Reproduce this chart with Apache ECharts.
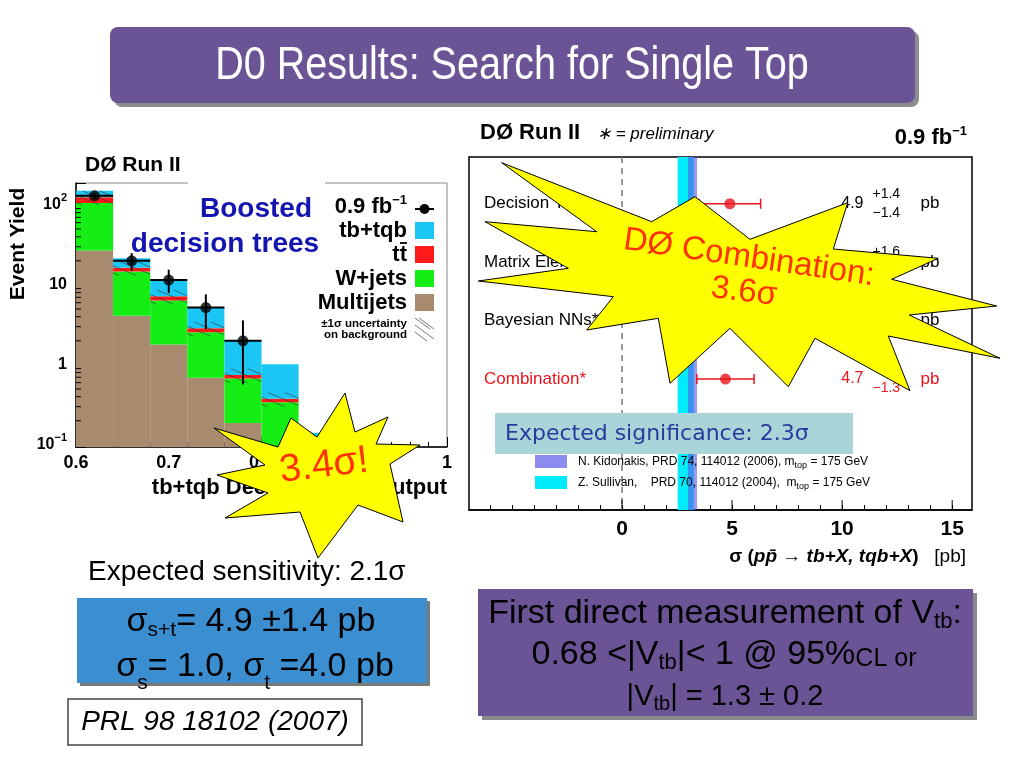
<!DOCTYPE html>
<html><head><meta charset="utf-8">
<script src="https://cdn.jsdelivr.net/npm/echarts@6/dist/echarts.min.js"></script>
<style>html,body{margin:0;padding:0;background:#fff;}#c{width:1024px;height:768px;}</style>
</head><body><div id="c"></div>
<script>
// ---------- Left panel: BDT output histogram ----------
const binEdges  = [0.60,0.64,0.68,0.72,0.76,0.80,0.84,0.88,0.92,0.96,1.00];
const multijets = [27, 4.1, 1.8, 0.69, 0.187, 0.06, 0.02, 0.01, 0.005, 0.003];
const wjets     = [79, 10.6, 4.6, 1.87, 0.49, 0.28, 0.05, 0.03, 0.02, 0.01];
const ttbar     = [19, 1.7, 0.8, 0.31, 0.07, 0.036, 0.015, 0.01, 0.006, 0.004];
const tbtqb     = [25, 5.1, 4.5, 2.33, 1.28, 0.64, 0.057, 0.03, 0.02, 0.01];
const bkgUnc    = 0.2;
const dataX  = [0.62, 0.66, 0.70, 0.74, 0.78];
const dataY  = [130, 20, 11.5, 5.2, 2.0];
const dataLo = [119, 15, 7.9, 2.8, 0.57];
const dataHi = [141, 25, 15.5, 7.6, 3.6];
const xTickLabelsLeft = ['0.6','0.7','0.8','0.9','1'];

// ---------- Right panel: cross-section summary ----------
const methods   = ['Decision Trees','Matrix Elements','Bayesian NNs*','Combination*'];
const methodRow = [5, 4, 3, 2];
const xsec      = [4.9, 4.8, 5.0, 4.7];
const errUp     = [1.4, 1.6, 1.9, 1.3];
const errDn     = [1.4, 1.4, 1.9, 1.3];
const sullivan  = [2.53, 3.26];
const kidonakis = [3.0, 3.41];
const xTicksRight = [0, 5, 10, 15];

const F = '"Liberation Sans", Arial, sans-serif';
const RED = '#e8141e';
const chart = echarts.init(document.getElementById('c'), null, {width:1024, height:768});

function csRect(params){ const c = params.coordSys; return {x:c.x, y:c.y, width:c.width, height:c.height}; }

function histItem(params, api){
  const p0 = api.coord([api.value(0), api.value(3)]);
  const p1 = api.coord([api.value(1), api.value(2)]);
  const r = echarts.graphic.clipRectByRect({x:p0[0], y:p0[1], width:p1[0]-p0[0], height:p1[1]-p0[1]}, csRect(params));
  if (!r) return null;
  return {type:'rect', shape:r, style:{fill:api.visual('color')}};
}
function hatchItem(params, api){
  const a = api.coord([api.value(0), api.value(3)]);
  const b = api.coord([api.value(1), api.value(2)]);
  const cs = params.coordSys;
  const xL=a[0], xR=b[0], yT=Math.max(a[1], cs.y), yB=Math.min(b[1], cs.y+cs.height);
  if (yB <= yT) return null;
  const k = 0.42, step = 17, span = (yB-yT)/k, ch = [];
  for (let c = xL - span + 6; c < xR; c += step){
    const xs = Math.max(c, xL), xe = Math.min(c+span, xR);
    if (xe <= xs) continue;
    ch.push({type:'line', shape:{x1:xs, y1:yT+(xs-c)*k, x2:xe, y2:yT+(xe-c)*k}, style:{stroke:'#333', lineWidth:0.6}});
  }
  return {type:'group', children:ch};
}
function minorTickItem(params, api){
  const p = api.coord([0.6, api.value(0)]);
  return {type:'line', shape:{x1:p[0], y1:p[1], x2:p[0]+5, y2:p[1]}, style:{stroke:'#000', lineWidth:1}};
}
function yerrItem(params, api){
  const i = params.dataIndex;
  const lo = api.coord([dataX[i], dataLo[i]]), hi = api.coord([dataX[i], dataHi[i]]);
  const l = api.coord([dataX[i]-0.02, dataY[i]]), r = api.coord([dataX[i]+0.02, dataY[i]]);
  const st = {stroke:'#000', lineWidth:2};
  return {type:'group', children:[
    {type:'line', shape:{x1:lo[0], y1:lo[1], x2:hi[0], y2:hi[1]}, style:st},
    {type:'line', shape:{x1:l[0], y1:l[1], x2:r[0], y2:r[1]}, style:st}]};
}
function bandItem(params, api){
  const cs = params.coordSys;
  const a = api.coord([api.value(0), 0]), b = api.coord([api.value(1), 0]);
  return {type:'rect', shape:{x:a[0], y:cs.y, width:b[0]-a[0], height:cs.height}, style:{fill:api.visual('color'), opacity: api.value(2)}};
}
function zeroLineItem(params, api){
  const cs = params.coordSys; const p = api.coord([0, 0]);
  return {type:'line', shape:{x1:p[0], y1:cs.y, x2:p[0], y2:cs.y+cs.height}, style:{stroke:'#777', lineWidth:1.5, lineDash:[6,5]}};
}
function majorTickItem(params, api){
  const cs = params.coordSys; const p = api.coord([api.value(0), 0]);
  return {type:'line', shape:{x1:p[0], y1:cs.y+cs.height, x2:p[0], y2:cs.y+cs.height-10}, style:{stroke:'#000', lineWidth:1}};
}
function xerrItem(params, api){
  const i = params.dataIndex, y = methodRow[i];
  const a = api.coord([xsec[i]-errDn[i], y]), b = api.coord([xsec[i]+errUp[i], y]);
  const st = {stroke:RED, lineWidth:1.5};
  return {type:'group', children:[
    {type:'line', shape:{x1:a[0], y1:a[1], x2:b[0], y2:b[1]}, style:st},
    {type:'line', shape:{x1:a[0], y1:a[1]-5, x2:a[0], y2:a[1]+5}, style:st},
    {type:'line', shape:{x1:b[0], y1:b[1]-5, x2:b[0], y2:b[1]+5}, style:st}]};
}
const valueTextX = 10.97;
function valueTextItem(params, api){
  const i = params.dataIndex;
  const p = api.coord([valueTextX, methodRow[i]]);
  const col = i === 3 ? RED : '#000';
  const t = (txt, dx, dy, size, al) => ({type:'text', x:p[0]+dx, y:p[1]+dy, style:{text:txt, fill:col, font:size+'px '+F, align:al, verticalAlign:'middle'}});
  return {type:'group', children:[
    t(xsec[i].toFixed(1), 0, 0, 16, 'right'),
    t('+'+errUp[i].toFixed(1), 9, -10, 14, 'left'),
    t('\u2212'+errDn[i].toFixed(1), 9, 9, 14, 'left'),
    t('pb', 57, 0, 17, 'left')]};
}

const comps = [multijets, wjets, ttbar, tbtqb];
const compColors = ['#a88b6f', '#14ee14', '#ff1a1a', '#1cc6f4'];
const histSeries = comps.map((arr, ci) => ({
  type:'custom', xAxisIndex:0, yAxisIndex:0, renderItem:histItem, itemStyle:{color:compColors[ci]}, z:2,
  data: binEdges.slice(0,-1).map((e,i) => {
    let lo = 0; for (let k=0;k<ci;k++) lo += comps[k][i];
    return [e, binEdges[i+1], ci===0 ? 1e-3 : lo, lo + arr[i]];
  })
}));
const hatchData = binEdges.slice(0,7).map((e,i) => {
  const b = multijets[i]+wjets[i]+ttbar[i];
  return [e, binEdges[i+1], b*(1-bkgUnc), b*(1+bkgUnc)];
});
const minorVals = [];
for (let k=-1;k<=2;k++) for (let m=2;m<=9;m++){ const v=m*Math.pow(10,k); if (v<188) minorVals.push([v]); }
const intTicks = []; for (let v=-6; v<=15; v++) intTicks.push(v);

const option = {
  backgroundColor:'#fff',
  animation:false,
  grid:[
    {left:76, top:183, width:371, height:264, show:true, borderColor:'#888', borderWidth:1},
    {left:469, top:157, width:503, height:353, show:true, borderColor:'#000', borderWidth:1.5}
  ],
  xAxis:[
    {gridIndex:0, type:'value', min:0.6, max:1.0, interval:0.1,
     axisLine:{onZero:false, lineStyle:{color:'#000', width:1.5}},
     axisTick:{inside:true, length:10, lineStyle:{color:'#000'}},
     minorTick:{show:true, splitNumber:5, length:5, lineStyle:{color:'#000'}},
     splitLine:{show:false},
     axisLabel:{margin:7, color:'#000', fontSize:18, fontWeight:'bold', fontFamily:F,
       formatter: v => xTickLabelsLeft[Math.round((v-0.6)/0.1)] || ''}},
    {gridIndex:1, type:'value', min:-6.95, max:15.9,
     axisLine:{onZero:false, lineStyle:{color:'#000', width:1.5}},
     axisTick:{inside:true, length:5, customValues:intTicks, lineStyle:{color:'#000'}},
     splitLine:{show:false},
     axisLabel:{customValues:xTicksRight, margin:9, color:'#000', fontSize:21, fontWeight:'bold', fontFamily:F}}
  ],
  yAxis:[
    {gridIndex:0, type:'log', logBase:10, min:0.094, max:188,
     axisLine:{show:true, onZero:false, lineStyle:{color:'#000', width:1.5}},
     axisTick:{inside:true, length:10, lineStyle:{color:'#000'}},
     splitLine:{show:false},
     axisLabel:{margin:9, formatter: v => {
        const e = Math.log10(v), r = Math.round(e);
        if (Math.abs(e-r) > 0.01) return '';
        if (r===2) return '{b|10}{s|2}';
        if (r===1) return '{b|10}';
        if (r===0) return '{b|1}';
        if (r===-1) return '{b|10}{s|\u22121}';
        return '';
      },
      rich:{b:{fontSize:16, fontWeight:'bold', fontFamily:F, color:'#000', lineHeight:24},
            s:{fontSize:11, fontWeight:'bold', fontFamily:F, color:'#000', verticalAlign:'top', lineHeight:12}}}},
    {gridIndex:1, type:'value', min:-0.24, max:5.8,
     axisLine:{show:false, onZero:false}, axisTick:{show:false}, splitLine:{show:false},
     axisLabel:{inside:true, margin:15, customValues:methodRow,
       formatter: v => { const i = methodRow.indexOf(v); if (i<0) return ''; return (i===3?'{r|':'{k|') + methods[i] + '}'; },
       rich:{k:{fontSize:17, fontFamily:F, color:'#000'}, r:{fontSize:17, fontFamily:F, color:RED}}}}
  ],
  series:[
    ...histSeries,
    {type:'custom', xAxisIndex:0, yAxisIndex:0, renderItem:hatchItem, data:hatchData, z:3},
    {type:'custom', xAxisIndex:0, yAxisIndex:0, renderItem:minorTickItem, data:minorVals, z:3},
    {type:'custom', xAxisIndex:0, yAxisIndex:0, renderItem:yerrItem, data:dataX.map((x,i)=>[x,dataY[i]]), z:4},
    {type:'scatter', xAxisIndex:0, yAxisIndex:0, data:dataX.map((x,i)=>[x,dataY[i]]), symbolSize:11, itemStyle:{color:'#000'}, z:5},

    {type:'custom', xAxisIndex:1, yAxisIndex:1, renderItem:bandItem, itemStyle:{color:'#00ecfc'}, data:[[sullivan[0], sullivan[1], 1]], z:2},
    {type:'custom', xAxisIndex:1, yAxisIndex:1, renderItem:bandItem, itemStyle:{color:'#5a5ae6'}, data:[[kidonakis[0], kidonakis[1], 0.62]], z:2},
    {type:'custom', xAxisIndex:1, yAxisIndex:1, renderItem:zeroLineItem, data:[[0,0]], z:3},
    {type:'custom', xAxisIndex:1, yAxisIndex:1, renderItem:majorTickItem, data:xTicksRight.map(v=>[v,0]), z:3},
    {type:'custom', xAxisIndex:1, yAxisIndex:1, renderItem:xerrItem, data:xsec.map((x,i)=>[x,methodRow[i]]), z:4},
    {type:'scatter', xAxisIndex:1, yAxisIndex:1, data:xsec.map((x,i)=>[x,methodRow[i]]), symbolSize:11, itemStyle:{color:RED}, z:5},
    {type:'custom', xAxisIndex:1, yAxisIndex:1, renderItem:valueTextItem, data:xsec.map((x,i)=>[valueTextX,methodRow[i]]), z:5}
  ],
  graphic:[
    // title
    {type:'rect', shape:{x:114, y:31, width:805, height:76, r:8}, style:{fill:'#8c8c8c'}, z:1},
    {type:'rect', shape:{x:110, y:27, width:805, height:76, r:8}, style:{fill:'#6b5495'}, z:2},
    {type:'text', x:512, y:66, scaleX:0.86, style:{text:'D0 Results: Search for Single Top', fill:'#fff', font:'46px '+F, align:'center', verticalAlign:'middle'}, z:3},

    // left chart annotations
    {type:'rect', shape:{x:188, y:180, width:137, height:6}, style:{fill:'#fff'}, z:5},
    {type:'text', x:85, y:165, style:{text:'D\u00d8 Run II', fill:'#000', font:'bold 21px '+F, align:'left', verticalAlign:'middle'}, z:5},
    {type:'text', x:18, y:244, rotation:Math.PI/2, style:{text:'Event Yield', fill:'#000', font:'bold 21px '+F, align:'center', verticalAlign:'middle'}, z:5},
    {type:'text', x:447, y:488, style:{text:'tb+tqb Decision Tree Output', fill:'#000', font:'bold 22px '+F, align:'right', verticalAlign:'middle'}, z:5},
    {type:'text', x:256, y:209, style:{text:'Boosted', fill:'#1414b0', font:'bold 28px '+F, align:'center', verticalAlign:'middle'}, z:5},
    {type:'text', x:225, y:244, style:{text:'decision trees', fill:'#1414b0', font:'bold 28px '+F, align:'center', verticalAlign:'middle'}, z:5},
    // left legend
    {type:'text', x:407, y:207, style:{text:'{a|0.9 fb}{s|\u22121}', align:'right', verticalAlign:'middle',
       rich:{a:{fontSize:22, fontWeight:'bold', fontFamily:F, color:'#000', lineHeight:26}, s:{fontSize:13, fontWeight:'bold', fontFamily:F, color:'#000', verticalAlign:'top', lineHeight:14}}}, z:5},
    {type:'line', shape:{x1:415, y1:209, x2:434, y2:209}, style:{stroke:'#000', lineWidth:2}, z:5},
    {type:'circle', shape:{cx:424.5, cy:209, r:5}, style:{fill:'#000'}, z:5},
    {type:'rect', shape:{x:415, y:222, width:19, height:17}, style:{fill:compColors[3]}, z:5},
    {type:'rect', shape:{x:415, y:246, width:19, height:17}, style:{fill:compColors[2]}, z:5},
    {type:'rect', shape:{x:415, y:270, width:19, height:17}, style:{fill:compColors[1]}, z:5},
    {type:'rect', shape:{x:415, y:294, width:19, height:17}, style:{fill:compColors[0]}, z:5},
    {type:'text', x:407, y:231, style:{text:'tb+tqb', fill:'#000', font:'bold 22px '+F, align:'right', verticalAlign:'middle'}, z:5},
    {type:'text', x:407, y:255, style:{text:'tt', fill:'#000', font:'bold 22px '+F, align:'right', verticalAlign:'middle'}, z:5},
    {type:'line', shape:{x1:400, y1:243, x2:407, y2:243}, style:{stroke:'#000', lineWidth:1.8}, z:5},
    {type:'text', x:407, y:279, style:{text:'W+jets', fill:'#000', font:'bold 22px '+F, align:'right', verticalAlign:'middle'}, z:5},
    {type:'text', x:407, y:303, style:{text:'Multijets', fill:'#000', font:'bold 22px '+F, align:'right', verticalAlign:'middle'}, z:5},
    {type:'text', x:407, y:324, style:{text:'\u00b11\u03c3 uncertainty', fill:'#000', font:'bold 11.5px '+F, align:'right', verticalAlign:'middle'}, z:5},
    {type:'text', x:407, y:335, style:{text:'on background', fill:'#000', font:'bold 11.5px '+F, align:'right', verticalAlign:'middle'}, z:5},
    {type:'line', shape:{x1:415, y1:318, x2:430, y2:329}, style:{stroke:'#555', lineWidth:0.8}, z:5},
    {type:'line', shape:{x1:415, y1:325, x2:434, y2:339}, style:{stroke:'#555', lineWidth:0.8}, z:5},
    {type:'line', shape:{x1:419, y1:318, x2:434, y2:329}, style:{stroke:'#555', lineWidth:0.8}, z:5},
    {type:'line', shape:{x1:415, y1:332, x2:427, y2:341}, style:{stroke:'#555', lineWidth:0.8}, z:5},

    // right chart annotations
    {type:'text', x:480, y:133, style:{text:'D\u00d8 Run II', fill:'#000', font:'bold 22px '+F, align:'left', verticalAlign:'middle'}, z:5},
    {type:'text', x:597, y:134, style:{text:'\u2217 = preliminary', fill:'#000', font:'italic 17px '+F, align:'left', verticalAlign:'middle'}, z:5},
    {type:'text', x:967, y:138, style:{text:'{a|0.9 fb}{s|\u22121}', align:'right', verticalAlign:'middle',
       rich:{a:{fontSize:22, fontWeight:'bold', fontFamily:F, color:'#000', lineHeight:26}, s:{fontSize:13, fontWeight:'bold', fontFamily:F, color:'#000', verticalAlign:'top', lineHeight:14}}}, z:5},
    {type:'text', x:966, y:557, style:{text:'{b|\u03c3 (}{bi|pp\u0304 \u2192 tb+X, tqb+X}{b|)}{n|   [pb]}', align:'right', verticalAlign:'middle',
       rich:{b:{fontSize:19, fontWeight:'bold', fontFamily:F, color:'#000'}, bi:{fontSize:19, fontWeight:'bold', fontStyle:'italic', fontFamily:F, color:'#000'}, n:{fontSize:19, fontFamily:F, color:'#000'}}}, z:5},
    {type:'rect', shape:{x:535, y:455, width:32, height:13}, style:{fill:'#8c8cee'}, z:5},
    {type:'rect', shape:{x:535, y:476, width:32, height:13}, style:{fill:'#00ecfc'}, z:5},
    {type:'text', x:578, y:462, style:{text:'{a|N. Kidonakis, PRD 74, 114012 (2006), m}{s|top}{a| = 175 GeV}', align:'left', verticalAlign:'middle',
       rich:{a:{fontSize:12, fontFamily:F, color:'#222', lineHeight:16}, s:{fontSize:9, fontFamily:F, color:'#222', verticalAlign:'bottom', lineHeight:10}}}, z:5},
    {type:'text', x:578, y:483, style:{text:'{a|Z. Sullivan,    PRD 70, 114012 (2004),  m}{s|top}{a| = 175 GeV}', align:'left', verticalAlign:'middle',
       rich:{a:{fontSize:12, fontFamily:F, color:'#222', lineHeight:16}, s:{fontSize:9, fontFamily:F, color:'#222', verticalAlign:'bottom', lineHeight:10}}}, z:5},
    {type:'rect', shape:{x:495, y:413, width:358, height:41}, style:{fill:'#a9d4d8'}, z:6},
    {type:'text', x:505, y:434, style:{text:'Expected significance: 2.3\u03c3', fill:'#2a3a9c', font:'22px "DejaVu Sans", sans-serif', align:'left', verticalAlign:'middle'}, z:7},

    // star 1
    {type:'polygon', shape:{points:[[501.7,162.7],[651.7,221.7],[695,196.7],[750,239.3],[847.7,202.7],[833.3,249],[938.3,258.3],[891.7,279.3],[996.7,306],[909.3,315],[1000,358.3],[888.3,336],[910,390.7],[815,338.3],[788.3,386.7],[730,328.3],[670,383.3],[658.3,318.3],[586.7,330],[613.3,296.7],[478.3,281],[568.3,268.3],[485,221.7],[596.7,231.7]]},
     style:{fill:'#ffff00', stroke:'#000', lineWidth:1}, z:10},
    {type:'text', x:749, y:258, rotation:-0.145, style:{text:'D\u00d8 Combination:', fill:'#ff3300', font:'33px '+F, align:'center', verticalAlign:'middle'}, z:11},
    {type:'text', x:744, y:292, rotation:-0.12, style:{text:'3.6\u03c3', fill:'#ff3300', font:'33px '+F, align:'center', verticalAlign:'middle'}, z:11},

    // star 2
    {type:'polygon', shape:{points:[[214,428],[278,447],[291,418],[317,437],[345,393],[355,432],[388,417],[376,444],[420,445],[390,464],[403,522],[358,505],[318,558],[300,512],[225,518],[268,493],[217,475],[265,465]]},
     style:{fill:'#ffff00', stroke:'#000', lineWidth:1}, z:10},
    {type:'text', x:324, y:466, rotation:0.12, style:{text:'3.4\u03c3!', fill:'#ff3300', font:'39px '+F, align:'center', verticalAlign:'middle'}, z:11},

    // bottom left
    {type:'text', x:88, y:572, style:{text:'Expected sensitivity: 2.1\u03c3', fill:'#000', font:'28px '+F, align:'left', verticalAlign:'middle'}, z:5},
    {type:'rect', shape:{x:80, y:601, width:350, height:85}, style:{fill:'#7a7a7a'}, z:5},
    {type:'rect', shape:{x:77, y:598, width:350, height:85}, style:{fill:'#3b8ed0'}, z:6},
    {type:'text', x:251, y:622, style:{text:'{m|\u03c3}{sub|s+t}{m|= 4.9 \u00b11.4 pb}', align:'center', verticalAlign:'middle',
       rich:{m:{fontSize:34, fontFamily:F, color:'#fff', lineHeight:38}, sub:{fontSize:21, fontFamily:F, color:'#fff', verticalAlign:'bottom', lineHeight:21}}}, z:7},
    {type:'text', x:255, y:667, style:{text:'{m|\u03c3}{sub|s}{m|= 1.0, }{m|\u03c3}{sub|t}{m| =4.0 pb}', align:'center', verticalAlign:'middle',
       rich:{m:{fontSize:34, fontFamily:F, color:'#fff', lineHeight:54}, sub:{fontSize:21, fontFamily:F, color:'#e8e8e8', verticalAlign:'bottom', lineHeight:21}}}, z:7},
    {type:'rect', shape:{x:68, y:699, width:294, height:46}, style:{fill:'#fff', stroke:'#444', lineWidth:1.5}, z:5},
    {type:'text', x:215, y:722, style:{text:'PRL 98 18102 (2007)', fill:'#000', font:'italic 28px '+F, align:'center', verticalAlign:'middle'}, z:6},

    // bottom right
    {type:'text', x:926, y:712, style:{text:'24', fill:'#222', font:'22px '+F, align:'center', verticalAlign:'middle'}, z:4},
    {type:'rect', shape:{x:482, y:593, width:495, height:127}, style:{fill:'#8a8a8a'}, z:5},
    {type:'rect', shape:{x:478, y:589, width:495, height:127}, style:{fill:'#6b5495'}, z:6},
    {type:'text', x:725, y:614, style:{text:'{m|First direct measurement of V}{sub|tb}{m|:}', align:'center', verticalAlign:'middle',
       rich:{m:{fontSize:34, fontFamily:F, color:'#fff', lineHeight:38}, sub:{fontSize:22, fontFamily:F, color:'#fff', verticalAlign:'bottom', lineHeight:22}}}, z:7},
    {type:'text', x:724, y:655, style:{text:'{m|0.68 <|V}{sub|tb}{m||< 1 @ 95%}{s|CL or}', align:'center', verticalAlign:'middle',
       rich:{m:{fontSize:34, fontFamily:F, color:'#fff', lineHeight:38}, sub:{fontSize:22, fontFamily:F, color:'#fff', verticalAlign:'bottom', lineHeight:22}, s:{fontSize:25, fontFamily:F, color:'#fff', lineHeight:38, verticalAlign:'bottom', padding:[0,0,2,0]}}}, z:7},
    {type:'text', x:725, y:697, style:{text:'{m||V}{sub|tb}{m|| = 1.3 \u00b1 0.2}', align:'center', verticalAlign:'middle',
       rich:{m:{fontSize:29, fontFamily:F, color:'#fff', lineHeight:34}, sub:{fontSize:20, fontFamily:F, color:'#fff', verticalAlign:'bottom', lineHeight:20}}}, z:7}
  ]
};
chart.setOption(option);
</script>
</body></html>
